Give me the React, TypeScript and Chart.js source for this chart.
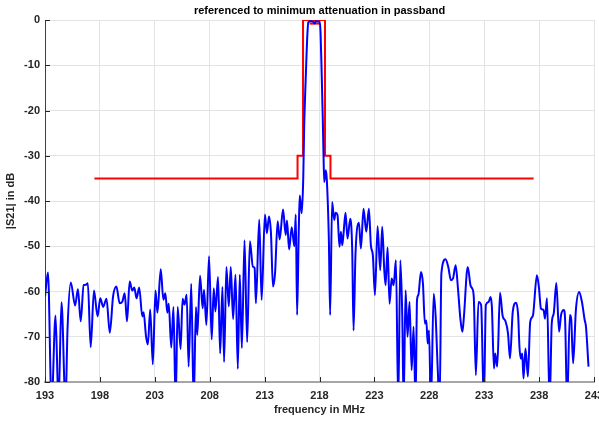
import React, { useEffect, useRef } from "react";
import { Chart, registerables } from "chart.js";

Chart.register(...registerables);

const TITLE = "referenced to minimum attenuation in passband";
const X_LABEL = "frequency in MHz";
const Y_LABEL = "|S21| in dB";

const X_MIN = 193;
const X_MAX = 243;
const Y_MIN = -80;
const Y_MAX = 0;

// Measured response (blue)
const respFreq = [
  193.0, 193.27, 193.6, 193.96, 194.23, 194.5, 194.87, 195.05, 195.35, 195.74,
  196.0, 196.25, 196.52, 196.73, 196.9, 197.16, 197.46, 197.79, 198.03, 198.3,
  198.6, 198.9, 199.2, 199.5, 199.8, 200.05, 200.26, 200.47, 200.71, 200.95,
  201.13, 201.34, 201.58, 201.86, 201.98, 202.2, 202.37, 202.58, 202.82, 203.06,
  203.24, 203.54, 203.78, 203.96, 204.14, 204.27, 204.5, 204.7, 204.9, 205.08,
  205.35, 205.53, 205.71, 205.9, 206.08, 206.32, 206.54, 206.75, 206.87, 207.12,
  207.36, 207.48, 207.7, 207.94, 208.18, 208.37, 208.52, 208.76, 208.95, 209.16,
  209.31, 209.52, 209.74, 209.92, 210.13, 210.35, 210.56, 210.74, 210.93, 211.17,
  211.41, 211.66, 211.93, 212.09, 212.21, 212.51, 212.73, 213.03, 213.21, 213.4,
  213.58, 213.76, 213.95, 214.19, 214.37, 214.68, 214.92, 215.04, 215.23, 215.47,
  215.71, 215.84, 215.96, 216.11, 216.2, 216.38, 216.52, 216.6, 216.7, 216.8,
  216.9, 216.98, 217.2, 217.45, 217.55, 217.65, 218.02, 218.1, 218.2, 218.3,
  218.36, 218.43, 218.58, 218.67, 218.85, 218.97, 219.15, 219.34, 219.46, 219.64,
  219.82, 219.95, 220.07, 220.19, 220.37, 220.55, 220.8, 220.98, 221.1, 221.28,
  221.59, 221.77, 222.01, 222.26, 222.5, 222.68, 222.86, 223.05, 223.29, 223.53,
  223.71, 223.9, 224.02, 224.2, 224.38, 224.57, 224.75, 224.96, 225.17, 225.36,
  225.54, 225.66, 225.84, 226.02, 226.2, 226.39, 226.57, 226.75, 226.88, 227.0,
  227.24, 227.42, 227.6, 227.73, 227.85, 227.97, 228.15, 228.4, 228.58, 228.76,
  228.94, 229.1, 229.48, 229.73, 229.97, 230.16, 230.4, 230.61, 230.83, 231.01,
  231.13, 231.5, 231.75, 231.9, 232.05, 232.24, 232.48, 232.72, 232.97, 233.15,
  233.4, 233.58, 233.7, 233.89, 234.0, 234.19, 234.44, 234.68, 234.93, 235.17,
  235.35, 235.6, 235.9, 236.09, 236.21, 236.33, 236.46, 236.58, 236.76, 236.98,
  237.19, 237.43, 237.8, 237.98, 238.17, 238.41, 238.54, 238.72, 238.96, 239.15,
  239.33, 239.57, 239.82, 240.0, 240.25, 240.37, 240.55, 240.8, 240.92, 241.1,
  241.35, 241.65, 241.9, 242.15, 242.27, 242.5,
];
const respDb = [
  -61.1, -55.8, -85, -65.3, -85, -62.4, -85, -68.4, -58.0, -63.1,
  -59.5, -66.6, -58.6, -58.5, -58.2, -72.3, -59.8, -65.5, -61.5, -63.4,
  -61.6, -69.1, -61.1, -58.9, -62.6, -62.2, -60.4, -66.6, -57.8, -59.8,
  -59.1, -61.5, -59.1, -65.5, -64.6, -69.9, -71.7, -64.0, -76.1, -59.8,
  -64.7, -55.1, -61.8, -60.4, -64.7, -62.7, -72.4, -63.4, -85, -63.4,
  -72.7, -61.6, -62.9, -60.7, -76.6, -58.3, -85, -63.4, -69.6, -56.5,
  -63.7, -59.6, -67.4, -52.2, -70.6, -59.3, -64.4, -56.8, -73.7, -59.0,
  -75.6, -54.6, -63.3, -54.6, -66.1, -56.3, -77.1, -56.3, -72.5, -48.7,
  -71.2, -48.9, -54.5, -54.8, -62.6, -44.1, -61.9, -43.0, -47.1, -43.4,
  -47.1, -58.9, -56.0, -44.5, -48.5, -41.9, -47.5, -44.3, -50.7, -45.8,
  -50.0, -43.0, -65.2, -46.7, -38.8, -42.7, -35.0, -24, -16, -9,
  -3, -0.5, -0.3, -0.4, -0.8, -0.3, -0.4, -3, -12, -22,
  -29, -35.8, -33.2, -35.4, -48.3, -65.2, -40.2, -44.2, -42.6, -43.1,
  -50.1, -46.8, -49.8, -47.2, -42.6, -48.3, -43.9, -50.9, -68.6, -51.6,
  -44.8, -50.5, -41.7, -46.8, -41.7, -49.8, -52.0, -60.8, -45.6, -55.3,
  -45.7, -55.3, -58.6, -50.3, -62.7, -57.1, -58.6, -53.1, -85, -53.1,
  -65.6, -85, -59.7, -70.0, -62.3, -77.4, -67.8, -85, -61.9, -60.8,
  -55.7, -58.2, -67.1, -66.4, -71.5, -68.6, -85, -60.5, -65.6, -76.7,
  -85, -56, -52.9, -54.6, -57.5, -57.1, -54.2, -59.3, -66.0, -68.9,
  -66.3, -54.6, -58.6, -59.3, -61.2, -78.5, -62.3, -63.0, -85, -63.0,
  -62.3, -61.2, -63.4, -77.0, -73.7, -76.6, -60.3, -65.4, -66.5, -69.3,
  -74.8, -64.5, -62.5, -65.2, -72.2, -74.8, -73.7, -79.2, -72.6, -78.8,
  -66.7, -65.4, -56.4, -59.0, -63.8, -64.1, -66.0, -61.5, -85, -67.1,
  -64.9, -58.1, -68.9, -65.2, -64.1, -66.3, -85, -65.2, -66.0, -75.9,
  -64.1, -60.1, -62.3, -66.3, -67.8, -76.6,
];

// Tolerance mask (red)
const maskFreq = [197.5, 216, 216, 216.5, 216.5, 218.5, 218.5, 219, 219, 237.5];
const maskDb = [-35, -35, -30, -30, 0, 0, -30, -30, -35, -35];

// Reference level marker in the passband (red)
const refFreq = [217.1, 218.0];
const refDb = [-0.8, -0.8];

const FONT = "'Liberation Sans', Arial, sans-serif";

const toPoints = (xs: number[], ys: number[]) => xs.map((x, i) => ({ x, y: ys[i] }));

const decorPlugin = {
  id: "decor",
  afterDraw(chart: any) {
    const { ctx, chartArea, scales } = chart;
    ctx.save();
    // inward tick marks
    ctx.strokeStyle = "#262626";
    ctx.lineWidth = 1;
    ctx.beginPath();
    scales.x.ticks.forEach((t: any) => {
      const px = Math.round(scales.x.getPixelForValue(t.value)) + 0.5;
      ctx.moveTo(px, chartArea.bottom);
      ctx.lineTo(px, chartArea.bottom - 5);
    });
    scales.y.ticks.forEach((t: any) => {
      const py = Math.round(scales.y.getPixelForValue(t.value)) + 0.5;
      ctx.moveTo(chartArea.left, py);
      ctx.lineTo(chartArea.left + 5, py);
    });
    ctx.stroke();
    // title
    ctx.fillStyle = "#000000";
    ctx.font = `bold 11px ${FONT}`;
    ctx.textAlign = "center";
    ctx.textBaseline = "middle";
    ctx.fillText(TITLE, (chartArea.left + chartArea.right) / 2, 11);
    ctx.restore();
  },
};

export default function App() {
  const ref = useRef<HTMLCanvasElement | null>(null);

  useEffect(() => {
    if (!ref.current) return;
    const chart = new Chart(ref.current, {
      type: "line",
      data: {
        datasets: [
          {
            label: "response",
            data: toPoints(respFreq, respDb),
            borderColor: "#0000ff",
            borderWidth: 2,
            pointRadius: 0,
            cubicInterpolationMode: "monotone",
            fill: false,
          },
          {
            label: "mask",
            data: toPoints(maskFreq, maskDb),
            borderColor: "#ff0000",
            borderWidth: 2,
            pointRadius: 0,
            tension: 0,
            fill: false,
          },
          {
            label: "reference",
            data: toPoints(refFreq, refDb),
            borderColor: "#ff0000",
            borderWidth: 2,
            pointRadius: 0,
            tension: 0,
            fill: false,
          },
        ],
      },
      options: {
        animation: false,
        responsive: false,
        devicePixelRatio: 1,
        layout: { padding: { top: 20, right: 5, left: 0, bottom: 0 } },
        plugins: {
          legend: { display: false },
          tooltip: { enabled: false },
          title: { display: false },
        },
        scales: {
          x: {
            type: "linear",
            min: X_MIN,
            max: X_MAX,
            ticks: {
              stepSize: 5,
              autoSkip: false,
              maxRotation: 0,
              padding: 7,
              color: "#262626",
              font: { family: FONT, size: 11, weight: "bold" },
            },
            grid: { color: "#e3e3e3", drawTicks: false, lineWidth: 1 },
            border: { color: "#a6a6a6", width: 2 },
            title: {
              display: true,
              text: X_LABEL,
              color: "#262626",
              font: { family: FONT, size: 11, weight: "bold" },
              padding: { top: 0, bottom: 4 },
            },
            afterFit(scale: any) {
              scale.height = 39;
              scale.paddingLeft = 0;
              scale.paddingRight = 0;
            },
          },
          y: {
            type: "linear",
            min: Y_MIN,
            max: Y_MAX,
            ticks: {
              stepSize: 10,
              padding: 5,
              color: "#262626",
              font: { family: FONT, size: 11, weight: "bold" },
            },
            grid: { color: "#e3e3e3", drawTicks: false, lineWidth: 1 },
            border: { color: "#404040", width: 1 },
            title: {
              display: true,
              text: Y_LABEL,
              color: "#262626",
              font: { family: FONT, size: 11, weight: "bold" },
              padding: { top: 4, bottom: 0 },
            },
            afterFit(scale: any) {
              scale.width = 45;
              scale.paddingTop = 0;
              scale.paddingBottom = 0;
            },
          },
        },
      },
      plugins: [decorPlugin],
    });
    return () => chart.destroy();
  }, []);

  return (
    <div style={{ position: "fixed", left: 0, top: 0, width: 599, height: 421, background: "#ffffff" }}>
      <canvas ref={ref} width={599} height={421} style={{ width: 599, height: 421, display: "block" }} />
    </div>
  );
}
